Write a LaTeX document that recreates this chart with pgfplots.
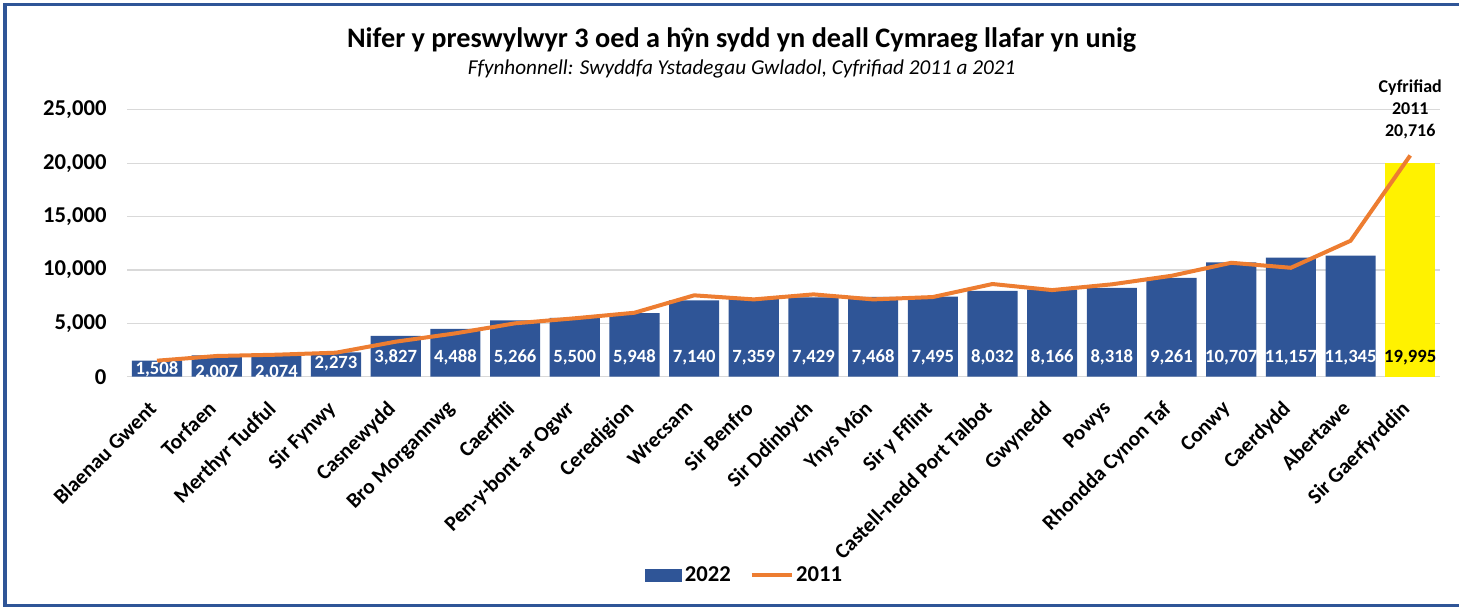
\documentclass[border=0pt]{standalone}
\usepackage{pgfplots}
\pgfplotsset{compat=1.18}
\usepackage{pgfplotstable}
\usepackage{fontspec}
\setmainfont{Carlito}

\definecolor{barblue}{HTML}{2F5597}
\definecolor{lineorange}{HTML}{ED7D31}
\definecolor{framecol}{HTML}{2F5597}
\definecolor{gridgray}{HTML}{D9D9D9}

% idx, 2022 value, 2011 value, height at which the value label sits
\pgfplotstableread{
idx v2022 v2011 laby
0  1508  1500  650
1  2007  1940  400
2  2074  2060  400
3  2273  2250  1200
4  3827  3280  1800
5  4488  4060  1800
6  5266  5000  1800
7  5500  5470  1800
8  5948  5990  1800
9  7140  7620  1800
10 7359  7240  1800
11 7429  7710  1800
12 7468  7240  1800
13 7495  7460  1800
14 8032  8680  1800
15 8166  8110  1800
16 8318  8650  1800
17 9261  9450  1800
18 10707 10670 1800
19 11157 10200 1800
20 11345 12730 1800
21 19995 20716 1800
}\datatable

\begin{document}
\begin{tikzpicture}
\begin{axis}[
    name=ax,
    scale only axis,
    width=984.7pt, height=200.25pt,
    xmin=-0.5, xmax=21.5,
    ymin=0, ymax=25000,
    clip=false,
    axis line style={draw=none},
    major tick length=0pt,
    ytick={0,5000,10000,15000,20000,25000},
    scaled y ticks=false,
    ymajorgrids=true,
    grid style={gridgray, line width=0.9pt},
    /pgf/number format/.cd, fixed, 1000 sep={,}, assume math mode=true,
    /pgfplots/.cd,
    yticklabel style={font=\fontsize{17}{20}\selectfont\bfseries, xshift=-12pt},
    xtick={0,...,21},
    xticklabels={Blaenau Gwent, Torfaen, Merthyr Tudful, Sir Fynwy, Casnewydd,
      Bro Morgannwg, Caerffili, Pen-y-bont ar Ogwr, Ceredigion, Wrecsam,
      Sir Benfro, Sir Ddinbych, Ynys Môn, Sir y Fflint, Castell-nedd Port Talbot,
      Gwynedd, Powys, Rhondda Cynon Taf, Conwy, Caerdydd, Abertawe, Sir Gaerfyrddin},
    xticklabel style={font=\fontsize{16}{19}\selectfont\bfseries,
      xshift=-7.5pt, yshift=-17pt, rotate=45, anchor=north east, inner sep=0pt},
    legend style={at={(axis description cs:0.4706,-0.743)}, anchor=center,
      draw=none, legend columns=2, font=\fontsize{17}{20}\selectfont\bfseries,
      /tikz/every even column/.append style={column sep=12pt}},
]
\addplot[ybar, bar width=0.84, bar shift=0pt, fill=barblue, draw=none,
    restrict x to domain=0:20,
    legend image code/.code={\fill[barblue] (0pt,-4.9pt) rectangle (27.75pt,4.9pt);}]
    table[x=idx, y=v2022] {\datatable};
\addlegendentry{2022}
\addplot[ybar, bar width=0.84, bar shift=0pt, fill=yellow, draw=none,
    restrict x to domain=21:21, forget plot]
    table[x=idx, y=v2022] {\datatable};
\addplot[lineorange, line width=3pt, mark=none,
    legend image code/.code={\draw[lineorange, line width=3pt] (0pt,0pt) -- (30pt,0pt);}]
    table[x=idx, y=v2011] {\datatable};
\addlegendentry{2011}
% value labels inside the bars
\addplot[draw=none, mark=none, forget plot, restrict x to domain=0:20,
    point meta=explicit, nodes near coords,
    nodes near coords style={white, anchor=center, inner sep=0pt,
      font=\fontsize{14}{17}\selectfont\bfseries}]
    table[x=idx, y=laby, meta=v2022] {\datatable};
\addplot[draw=none, mark=none, forget plot, restrict x to domain=21:21,
    point meta=explicit, nodes near coords,
    nodes near coords style={black, anchor=center, inner sep=0pt,
      font=\fontsize{14}{17}\selectfont\bfseries}]
    table[x=idx, y=laby, meta=v2022] {\datatable};
\node[anchor=south, align=center, font=\fontsize{13.5}{16.5}\selectfont\bfseries,
    yshift=9pt] at (axis cs:21,20716) {Cyfrifiad\\2011\\20,716};
\node[font=\fontsize{21.2}{25}\selectfont\bfseries]
    at (axis description cs:0.468,1.261)
    {Nifer y preswylwyr 3 oed a hŷn sydd yn deall Cymraeg llafar yn unig};
\node[font=\fontsize{15.9}{19}\selectfont\itshape]
    at (axis description cs:0.468,1.153)
    {Ffynhonnell: Swyddfa Ystadegau Gwladol, Cyfrifiad 2011 a 2021};
\end{axis}
% frame on top, left and bottom only
\draw[framecol, line width=2.7pt]
  ([shift={(20pt,79pt)}]ax.north east) -- ([shift={(-91.6pt,79pt)}]ax.north west)
  -- ([shift={(-91.6pt,-171.6pt)}]ax.south west) -- ([shift={(20pt,-171.6pt)}]ax.south east);
% exact picture bounds
\pgfresetboundingbox
\useasboundingbox ([shift={(-95.4pt,-173.5pt)}]ax.south west)
  rectangle ([shift={(14.2pt,82.3pt)}]ax.north east);
\end{tikzpicture}
\end{document}
